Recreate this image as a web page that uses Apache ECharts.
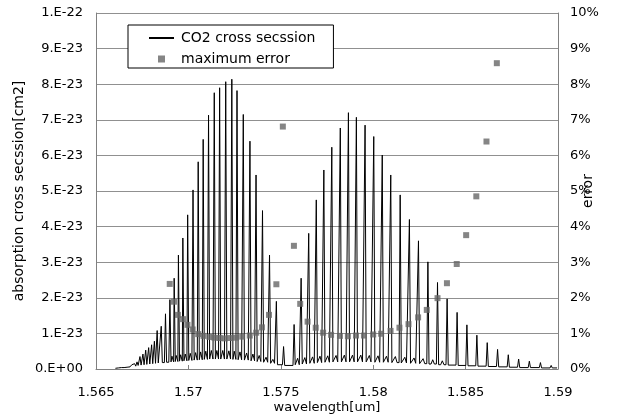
<!DOCTYPE html>
<html>
<head>
<meta charset="utf-8">
<script src="https://cdn.jsdelivr.net/npm/echarts@6/dist/echarts.min.js"></script>
<style>
  html, body { margin: 0; padding: 0; background: #fff; }
  #chart { width: 629px; height: 419px; }
</style>
</head>
<body>
<div id="chart"></div>
<script>
// ---- data (cross section in units of 1E-23 cm2, wavelength in um) ----
const xTickLabels = ['1.565', '1.57', '1.575', '1.58', '1.585', '1.59'];
const yLeftLabels = ['0.E+00', '1.E-23', '2.E-23', '3.E-23', '4.E-23', '5.E-23', '6.E-23', '7.E-23', '8.E-23', '9.E-23', '1.E-22'];
const yRightLabels = ['0%', '1%', '2%', '3%', '4%', '5%', '6%', '7%', '8%', '9%', '10%'];

// main absorption lines: position, peak height, baseline level after the line
const lineWl = [
  1.56615, 1.56631, 1.56646, 1.56662, 1.56678, 1.56694, 1.56709, 1.56722, 1.56738, 1.56754,
  1.56769, 1.56785, 1.56801, 1.56816, 1.56831, 1.56853, 1.56876, 1.56900, 1.56923, 1.56946,
  1.56970, 1.56996, 1.57025, 1.57053, 1.57080, 1.57109, 1.57140, 1.57169, 1.57202, 1.57235,
  1.57263, 1.57297, 1.57333, 1.57366, 1.57401, 1.57439, 1.57476, 1.57515,
  1.57572, 1.57610, 1.57651, 1.57692, 1.57733, 1.57776, 1.57822, 1.57866, 1.57909, 1.57956,
  1.58003, 1.58049, 1.58095, 1.58146, 1.58196, 1.58245, 1.58296, 1.58348, 1.58400, 1.58454,
  1.58507, 1.58561, 1.58617, 1.58673, 1.58731, 1.58787, 1.58845, 1.58905, 1.58963
];
const linePeak = [
  0.05, 0.06, 0.07, 0.08, 0.10, 0.12, 0.15, 0.20, 0.35, 0.42,
  0.53, 0.60, 0.68, 0.78, 1.08, 1.20, 1.55, 1.95, 2.55, 3.20,
  3.68, 4.33, 5.03, 5.82, 6.45, 7.13, 7.76, 7.90, 8.07, 8.14,
  7.82, 7.15, 6.40, 5.45, 4.45, 3.20, 1.90, 0.63,
  1.25, 2.55, 3.81, 4.75, 5.59, 6.23, 6.77, 7.20, 7.07, 6.85,
  6.53, 6.01, 5.45, 4.89, 4.20, 3.60, 3.01, 2.43, 1.97, 1.59,
  1.24, 0.95, 0.74, 0.55, 0.40, 0.28, 0.22, 0.18, 0.10
];
const lineBase = [
  0.03, 0.04, 0.04, 0.05, 0.06, 0.07, 0.08, 0.10, 0.11, 0.12,
  0.13, 0.14, 0.15, 0.16, 0.17, 0.18, 0.19, 0.20, 0.21, 0.22,
  0.23, 0.24, 0.25, 0.26, 0.27, 0.28, 0.28, 0.28, 0.28, 0.27,
  0.26, 0.25, 0.23, 0.21, 0.19, 0.16, 0.12, 0.10,
  0.12, 0.14, 0.16, 0.18, 0.19, 0.20, 0.20, 0.20, 0.20, 0.20,
  0.19, 0.19, 0.18, 0.17, 0.16, 0.15, 0.14, 0.12, 0.11, 0.10,
  0.09, 0.08, 0.07, 0.06, 0.05, 0.04, 0.04, 0.03, 0.03
];
// weak lines between the strong ones
const weakWl = [
  1.56911, 1.56934, 1.56958, 1.56983, 1.57010, 1.57039, 1.57066, 1.57094, 1.57124, 1.57154,
  1.57186, 1.57219, 1.57248, 1.57279, 1.57315, 1.57349, 1.57383, 1.57420, 1.57457,
  1.57591, 1.57630, 1.57672, 1.57712, 1.57754, 1.57799, 1.57844, 1.57888, 1.57933, 1.57979,
  1.58026, 1.58072, 1.58120, 1.58171, 1.58221, 1.58270, 1.58322, 1.58374
];
const weakPeak = [
  0.36, 0.38, 0.40, 0.42, 0.44, 0.46, 0.48, 0.50, 0.52, 0.52,
  0.52, 0.51, 0.50, 0.48, 0.45, 0.42, 0.38, 0.33, 0.27,
  0.30, 0.32, 0.34, 0.36, 0.37, 0.38, 0.39, 0.39, 0.39, 0.38,
  0.37, 0.36, 0.35, 0.33, 0.31, 0.29, 0.26, 0.23
];
const specStart = [1.56605, 0.02];
const specEnd = [1.58995, 0.03];

// maximum error (%) per line
const errWl = [
  1.56899, 1.56922, 1.56943, 1.56971, 1.56995, 1.57023, 1.57053, 1.57082, 1.57114, 1.57141,
  1.57169, 1.57197, 1.57227, 1.57257, 1.57291, 1.57332, 1.57367, 1.57398, 1.57436, 1.57476,
  1.57511, 1.57571, 1.57605, 1.57645, 1.57689, 1.57729, 1.57772, 1.57820, 1.57863, 1.57907,
  1.57950, 1.58000, 1.58043, 1.58094, 1.58142, 1.58191, 1.58243, 1.58290, 1.58348, 1.58399,
  1.58452, 1.58503, 1.58558, 1.58613, 1.58669
];
const errPct = [
  2.39, 1.89, 1.52, 1.40, 1.24, 1.11, 0.98, 0.93, 0.90, 0.88,
  0.87, 0.86, 0.87, 0.88, 0.91, 0.94, 1.02, 1.17, 1.52, 2.38,
  6.81, 3.46, 1.83, 1.33, 1.16, 1.02, 0.96, 0.93, 0.92, 0.94,
  0.94, 0.97, 0.99, 1.07, 1.16, 1.26, 1.45, 1.66, 1.99, 2.41,
  2.95, 3.76, 4.85, 6.39, 8.59
];

// ---- build series data ----
const HW = 0.00006;   // half base width of a strong line (drawing)
const HWW = 0.00009;  // half base width of a weak line (drawing)
const spectrum = [specStart];
let prevBase = specStart[1];
for (let i = 0; i < lineWl.length; i++) {
  spectrum.push([lineWl[i] - HW, prevBase], [lineWl[i], linePeak[i]], [lineWl[i] + HW, lineBase[i]]);
  prevBase = lineBase[i];
  const next = i + 1 < lineWl.length ? lineWl[i + 1] : Infinity;
  for (let j = 0; j < weakWl.length; j++) {
    if (weakWl[j] > lineWl[i] && weakWl[j] < next) {
      spectrum.push([weakWl[j] - HWW, prevBase], [weakWl[j], weakPeak[j]], [weakWl[j] + HWW, prevBase]);
    }
  }
}
spectrum.push(specEnd);
const errData = errWl.map((w, i) => [w, errPct[i]]);

const FONT = '"DejaVu Sans", sans-serif';
const chart = echarts.init(document.getElementById('chart'), null, { renderer: 'canvas' });
chart.setOption({
  animation: false,
  backgroundColor: '#fff',
  textStyle: { fontFamily: FONT, color: '#000' },
  grid: { left: 96, right: 71, top: 13, bottom: 50, containLabel: false, show: false },
  legend: {
    orient: 'vertical',
    left: 128, top: 25,
    padding: [6, 18, 2, 20],
    itemGap: 7,
    itemWidth: 25, itemHeight: 7,
    backgroundColor: '#fff',
    borderColor: '#000', borderWidth: 1, borderRadius: 0,
    textStyle: { fontFamily: FONT, fontSize: 14, color: '#000', padding: [0, 0, 0, 2] },
    data: [
      { name: 'CO2 cross secssion', itemStyle: { opacity: 0 } },
      { name: 'maximum error', icon: 'path://M0,0 L1,0 L1,1 L0,1 Z' }
    ]
  },
  xAxis: {
    type: 'value', min: 1.565, max: 1.59, interval: 0.005,
    name: 'wavelength[um]', nameLocation: 'middle', nameGap: 32, nameMoveOverlap: false,
    nameTextStyle: { fontFamily: FONT, fontSize: 13, color: '#000' },
    axisLine: { show: true, lineStyle: { color: '#808080', width: 1 } },
    axisTick: { show: true, inside: true, length: 4, lineStyle: { color: '#808080' } },
    axisLabel: {
      fontFamily: FONT, fontSize: 13, color: '#000', margin: 17,
      formatter: (v) => xTickLabels[Math.round((v - 1.565) / 0.005)]
    },
    splitLine: { show: false }
  },
  yAxis: [
    {
      type: 'value', min: 0, max: 10, interval: 1, position: 'left',
      name: 'absorption cross secssion[cm2]', nameLocation: 'middle', nameGap: 70, nameRotate: 90, nameMoveOverlap: false,
      nameTextStyle: { fontFamily: FONT, fontSize: 14, color: '#000' },
      axisLine: { show: true, lineStyle: { color: '#808080', width: 1 } },
      axisTick: { show: false },
      axisLabel: {
        fontFamily: FONT, fontSize: 13, color: '#000', margin: 13,
        formatter: (v) => yLeftLabels[Math.round(v)]
      },
      splitLine: { show: true, lineStyle: { color: '#909090', width: 1 } }
    },
    {
      type: 'value', min: 0, max: 10, interval: 1, position: 'right',
      name: 'error', nameLocation: 'middle', nameGap: 23, nameRotate: 90, nameMoveOverlap: false,
      nameTextStyle: { fontFamily: FONT, fontSize: 14, color: '#000' },
      axisLine: { show: true, lineStyle: { color: '#808080', width: 1 } },
      axisTick: { show: false },
      axisLabel: {
        fontFamily: FONT, fontSize: 13, color: '#000', margin: 12,
        formatter: (v) => yRightLabels[Math.round(v)]
      },
      splitLine: { show: false }
    }
  ],
  series: [
    {
      name: 'CO2 cross secssion', type: 'line', data: spectrum,
      xAxisIndex: 0, yAxisIndex: 0,
      symbol: 'none', showSymbol: false, smooth: false,
      lineStyle: { color: '#000', width: 1 },
      itemStyle: { color: '#000' },
      z: 2
    },
    {
      name: 'maximum error', type: 'scatter', data: errData,
      xAxisIndex: 0, yAxisIndex: 1,
      symbol: 'rect', symbolSize: 6, symbolKeepAspect: true,
      itemStyle: { color: '#666666' },
      z: 3
    }
  ]
});
</script>
</body>
</html>
